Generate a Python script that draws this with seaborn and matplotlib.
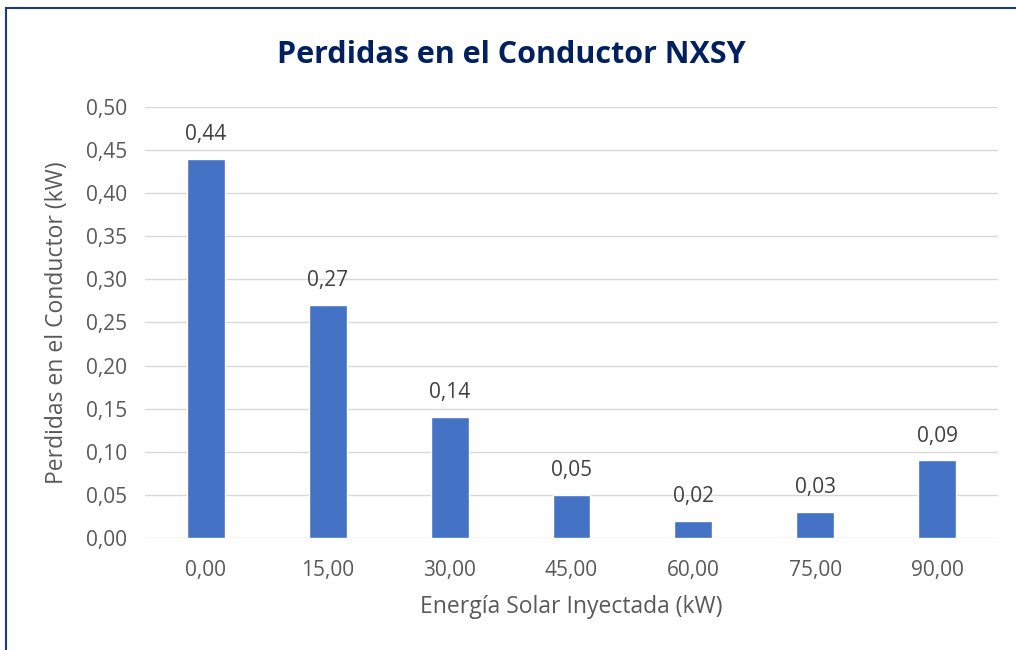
import matplotlib
matplotlib.use("Agg")
import matplotlib.pyplot as plt
import seaborn as sns
import pandas as pd
from matplotlib.patches import Rectangle

categories = ["0,00", "15,00", "30,00", "45,00", "60,00", "75,00", "90,00"]
values = [0.44, 0.27, 0.14, 0.05, 0.02, 0.03, 0.09]
yticks = [0.0, 0.05, 0.10, 0.15, 0.20, 0.25, 0.30, 0.35, 0.40, 0.45, 0.50]

sns.set_theme(style="white")
plt.rcParams['font.family'] = ['Open Sans', 'DejaVu Sans']

df = pd.DataFrame({"cat": categories, "val": values})

fig = plt.figure(figsize=(10.16, 6.5), dpi=100)
ax = fig.add_axes([0.1427, 0.1723, 0.9823 - 0.1427, 0.8354 - 0.1723])

sns.barplot(data=df, x="cat", y="val", color="#4472C4", saturation=1, width=0.31, ax=ax)

ax.set_ylim(0, 0.5)
ax.set_yticks(yticks)
ax.set_yticklabels([f"{t:.2f}".replace(".", ",") for t in yticks])
ax.grid(axis="y", color="#D9D9D9", linewidth=1)
ax.set_axisbelow(True)
for s in ax.spines.values():
    s.set_visible(False)
ax.tick_params(axis="both", length=0, labelsize=15, colors="#595959")
ax.tick_params(axis="y", pad=13)
ax.tick_params(axis="x", pad=16)

for p, v in zip(ax.patches, values):
    ax.annotate(f"{v:.2f}".replace(".", ","), (p.get_x() + p.get_width() / 2, v),
                xytext=(0, 10), textcoords="offset points", ha="center", va="bottom",
                fontsize=15, color="#404040")

ax.set_xlabel("Energía Solar Inyectada (kW)", fontsize=16.5, color="#595959", labelpad=10)
ax.set_ylabel("Perdidas en el Conductor (kW)", fontsize=16.5, color="#595959", labelpad=12)

fig.text(0.503, 1 - 55 / 650, "Perdidas en el Conductor NXSY", ha="center", va="center",
         fontsize=22, fontweight="bold", color="#002060")

fig.patches.append(Rectangle((6 / 1016, -0.1), 1.2, 1 - 8 / 650 + 0.1,
                             transform=fig.transFigure, fill=False,
                             edgecolor="#1F3A7A", linewidth=1.5))

fig.savefig("out.png", dpi=100)
